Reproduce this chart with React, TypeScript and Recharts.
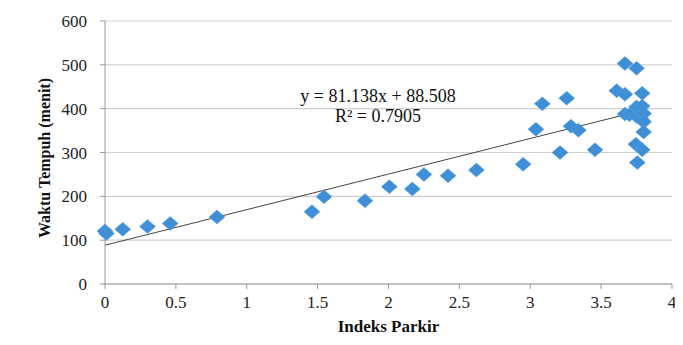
import React from 'react';
import { ComposedChart, Scatter, Line, XAxis, YAxis, CartesianGrid } from 'recharts';

// Indeks Parkir (x) vs Waktu Tempuh (y)
const indeksParkir = [
  0, 0.01, 0.125, 0.3, 0.46, 0.79,
  1.46, 1.545, 1.834, 2.006, 2.168, 2.25, 2.42, 2.62, 2.95,
  3.04, 3.085, 3.21, 3.257, 3.287, 3.34, 3.457,
  3.61, 3.668, 3.668, 3.668, 3.7, 3.745, 3.75, 3.75, 3.75, 3.755, 3.78,
  3.79, 3.79, 3.79, 3.8, 3.8, 3.8,
];
const waktuTempuh = [
  121, 115, 125, 131, 138, 153,
  165, 199, 190, 222, 217, 250, 247, 260, 273,
  353, 411, 300, 424, 360, 351, 306,
  441, 503, 433, 388, 386, 319, 492, 404, 382, 277, 378,
  435, 406, 306, 389, 370, 347,
];

// linear trendline shown in the chart
const slope = 81.138;
const intercept = 88.508;
const trendX = [0, 3.8];

const xTicks = [0, 0.5, 1, 1.5, 2, 2.5, 3, 3.5, 4];
const yTicks = [0, 100, 200, 300, 400, 500, 600];

const points = indeksParkir.map((x, i) => ({ x, y: waktuTempuh[i] }));
const trend = trendX.map((x) => ({ x, t: slope * x + intercept }));

const serif = '"Liberation Serif", "Times New Roman", serif';

const Diamond = (props: any) => {
  const { cx, cy } = props;
  if (cx == null || cy == null) return null;
  return (
    <polygon
      points={`${cx},${cy - 7} ${cx + 8},${cy} ${cx},${cy + 7} ${cx - 8},${cy}`}
      fill="#3f8fd6"
      stroke="#5aa3e2"
      strokeWidth={0.5}
    />
  );
};

const renderXTick = (props: any) => {
  const { x, y, payload } = props;
  return (
    <text x={x} y={y + 15} textAnchor="middle" fontFamily={serif} fontSize={17} fill="#222">
      {String(payload.value)}
    </text>
  );
};

const renderYTick = (props: any) => {
  const { x, y, payload } = props;
  return (
    <text x={x - 6} y={y + 6} textAnchor="end" fontFamily={serif} fontSize={17} fill="#222">
      {String(payload.value)}
    </text>
  );
};

const YLabel = () => (
  <text
    x={36}
    y={150}
    transform="rotate(-90, 36, 150)"
    textAnchor="middle"
    dominantBaseline="central"
    fontFamily={serif}
    fontWeight="bold"
    fontSize={16}
    fill="#111"
  >
    Waktu Tempuh (menit)
  </text>
);

const XLabel = (props: any) => {
  const { viewBox } = props;
  const cx = viewBox ? viewBox.x + viewBox.width / 2 : 380;
  return (
    <text
      x={cx}
      y={318}
      textAnchor="middle"
      dominantBaseline="central"
      fontFamily={serif}
      fontWeight="bold"
      fontSize={17}
      fill="#111"
    >
      Indeks Parkir
    </text>
  );
};

export default function App() {
  return (
    <div style={{ position: 'relative', width: 675, height: 330 }}>
      <ComposedChart
        width={675}
        height={330}
        margin={{ top: 13, right: 11, bottom: 0, left: 0 }}
      >
        <CartesianGrid horizontal vertical={false} stroke="#d0d0d0" strokeWidth={1.2} />
        <XAxis
          type="number"
          dataKey="x"
          domain={[0, 4]}
          ticks={xTicks}
          height={54}
          stroke="#999"
          tickSize={5}
          tickMargin={4}
          tick={renderXTick}
          label={<XLabel />}
        />
        <YAxis
          type="number"
          domain={[0, 600]}
          ticks={yTicks}
          width={97}
          stroke="#999"
          tickSize={5}
          tickMargin={7}
          tick={renderYTick}
          label={<YLabel />}
        />
        <Line
          data={trend}
          dataKey="t"
          type="linear"
          stroke="#444"
          strokeWidth={1}
          dot={false}
          activeDot={false}
          isAnimationActive={false}
        />
        <Scatter data={points} dataKey="y" shape={<Diamond />} isAnimationActive={false} />
      </ComposedChart>
      <div
        style={{
          position: 'absolute',
          left: 280,
          top: 78,
          width: 180,
          textAlign: 'center',
          fontFamily: serif,
          fontSize: 18,
          lineHeight: '20px',
          color: '#111',
        }}
      >
        <div>y = 81.138x + 88.508</div>
        <div>R² = 0.7905</div>
      </div>
    </div>
  );
}
